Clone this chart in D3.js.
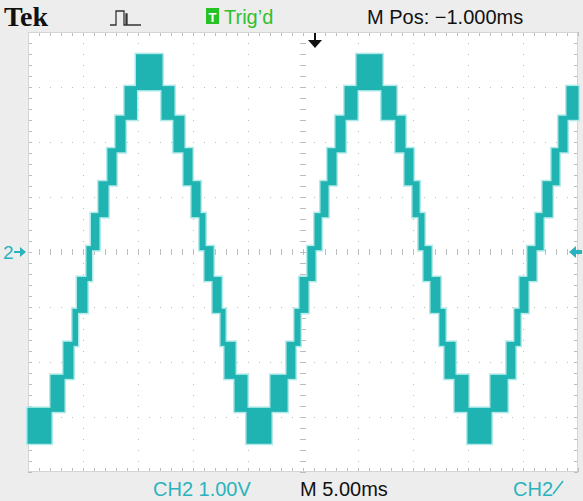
<!DOCTYPE html>
<html>
<head>
<meta charset="utf-8">
<script src="https://cdn.jsdelivr.net/npm/d3@7"></script>
<style>
  html, body { margin: 0; padding: 0; background: #ededed; }
  svg { display: block; }
  .lbl { font-family: "Liberation Sans", Arial, sans-serif; font-size: 20px; }
</style>
</head>
<body>
<svg id="scope" width="583" height="501"></svg>
<script>
// time axis in ms relative to trigger (M Pos -1.000ms, 5ms/div), volts at 1.00V/div
var timeDomain = [-26, 24];
var voltDomain = [-4, 4];

// the 13 output levels of the stepped wave (V)
var levelVolts = [-3.45, -2.87, -2.27, -1.67, -1.07, -0.49, 0.07, 0.67, 1.25, 1.85, 2.44, 2.98, 3.56];

// edges of each step block (ms) and the lower level index of that block
var stepEdges = [-26.0, -23.91, -22.73, -21.91, -21.5, -20.64, -20.23, -19.55, -18.73, -18.0, -17.18,
                 -16.14, -13.82, -12.73, -11.82, -11.09, -10.36, -9.91, -9.18, -8.45, -8.09, -7.18,
                 -6.09, -3.91, -2.45, -1.73, -1.27, -0.55, 0.09, 0.64, 1.27, 2.0, 2.82,
                 3.91, 6.18, 7.45, 8.27, 9.0, 9.55, 10.0, 10.64, 11.45, 11.91, 12.82,
                 14.0, 16.09, 17.55, 18.27, 18.73, 19.45, 20.18, 20.82, 21.64, 22.27, 23.0, 24.0];
var stepLevel = [0, 1, 2, 3, 4, 5, 6, 7, 8, 9, 10, 11, 10, 9, 8, 7, 6, 5, 4, 3, 2, 1,
                 0, 1, 2, 3, 4, 5, 6, 7, 8, 9, 10, 11, 10, 9, 8, 7, 6, 5, 4, 3, 2, 1,
                 0, 1, 2, 3, 4, 5, 6, 7, 8, 9, 10];

var svg = d3.select("#scope");

var xScale = d3.scaleLinear().domain(timeDomain).range([28, 578]);
var yScale = d3.scaleLinear().domain(voltDomain).range([472, 32]);

// plot background
svg.append("rect")
  .attr("x", xScale(timeDomain[0])).attr("y", yScale(voltDomain[1]))
  .attr("width", xScale(timeDomain[1]) - xScale(timeDomain[0]))
  .attr("height", yScale(voltDomain[0]) - yScale(voltDomain[1]))
  .attr("fill", "#ffffff");

//dotted graticule, one line per division
var grid = svg.append("g").attr("stroke", "#bdbdbd").attr("stroke-width", 1);
var divX = d3.range(timeDomain[0] + 5, timeDomain[1], 5);
var divY = d3.range(voltDomain[0] + 1, voltDomain[1], 1);

grid.selectAll(".gx").data(divX).enter().append("line")
  .attr("x1", d => xScale(d) + 0.5).attr("x2", d => xScale(d) + 0.5)
  .attr("y1", yScale(voltDomain[1])).attr("y2", yScale(voltDomain[0]))
  .attr("stroke-dasharray", "1,10");

grid.selectAll(".gy").data(divY).enter().append("line")
  .attr("y1", d => yScale(d) + 0.5).attr("y2", d => yScale(d) + 0.5)
  .attr("x1", xScale(timeDomain[0])).attr("x2", xScale(timeDomain[1]))
  .attr("stroke-dasharray", "1,10");

// minor ticks on centre lines and on the frame (5 per division)
var minorX = d3.range(timeDomain[0], timeDomain[1] + 0.01, 1);
var minorY = d3.range(voltDomain[0], voltDomain[1] + 0.01, 0.2);
var xMid = xScale(-1), yMid = yScale(0);

grid.selectAll(".mx").data(minorX).enter().append("line")
  .attr("x1", d => xScale(d) + 0.5).attr("x2", d => xScale(d) + 0.5)
  .attr("y1", yMid - 3).attr("y2", yMid + 3);
grid.selectAll(".my").data(minorY).enter().append("line")
  .attr("y1", d => yScale(d) + 0.5).attr("y2", d => yScale(d) + 0.5)
  .attr("x1", xMid - 3).attr("x2", xMid + 3);

grid.selectAll(".tt").data(minorX).enter().append("line")
  .attr("x1", d => xScale(d) + 0.5).attr("x2", d => xScale(d) + 0.5)
  .attr("y1", yScale(voltDomain[1])).attr("y2", yScale(voltDomain[1]) + 4);
grid.selectAll(".tb").data(minorX).enter().append("line")
  .attr("x1", d => xScale(d) + 0.5).attr("x2", d => xScale(d) + 0.5)
  .attr("y1", yScale(voltDomain[0]) - 4).attr("y2", yScale(voltDomain[0]));
grid.selectAll(".tl").data(minorY).enter().append("line")
  .attr("y1", d => yScale(d) + 0.5).attr("y2", d => yScale(d) + 0.5)
  .attr("x1", xScale(timeDomain[0])).attr("x2", xScale(timeDomain[0]) + 4);
grid.selectAll(".tr").data(minorY).enter().append("line")
  .attr("y1", d => yScale(d) + 0.5).attr("y2", d => yScale(d) + 0.5)
  .attr("x1", xScale(timeDomain[1]) - 4).attr("x2", xScale(timeDomain[1]));

svg.append("rect")
  .attr("x", xScale(timeDomain[0]) + 0.5).attr("y", yScale(voltDomain[1]) + 0.5)
  .attr("width", xScale(timeDomain[1]) - xScale(timeDomain[0]) - 1)
  .attr("height", yScale(voltDomain[0]) - yScale(voltDomain[1]) - 1)
  .attr("fill", "none").attr("stroke", "#d4d4d4");

//the stepped trace, one block per step (blocks overlap a little so the staircase reads as one trace)
var blocks = stepLevel.map(function(lv, i) {
  return { t0: stepEdges[i], t1: stepEdges[i + 1], lo: levelVolts[lv], hi: levelVolts[lv + 1] };
});

var trace = svg.append("g");
trace.selectAll(".glow").data(blocks).enter().append("rect")
  .attr("x", d => xScale(d.t0) - 0.5).attr("y", d => yScale(d.hi) - 2)
  .attr("width", d => xScale(d.t1) - xScale(d.t0) + 1)
  .attr("height", d => yScale(d.lo) - yScale(d.hi) + 4)
  .attr("fill", "none").attr("stroke", "#b3eae9").attr("stroke-width", 3);
trace.selectAll(".blk").data(blocks).enter().append("rect")
  .attr("x", d => xScale(d.t0) - 0.5).attr("y", d => yScale(d.hi) - 2)
  .attr("width", d => xScale(d.t1) - xScale(d.t0) + 1)
  .attr("height", d => yScale(d.lo) - yScale(d.hi) + 4)
  .attr("fill", "#1fb4b2");

// trigger position arrow
svg.append("path")
  .attr("d", "M" + (xScale(0) + 1) + "," + (yScale(voltDomain[1]) + 1) + "v10")
  .attr("stroke", "#111").attr("stroke-width", 2);
svg.append("path")
  .attr("d", "M" + (xScale(0) - 6) + "," + (yScale(voltDomain[1]) + 8) + "h14l-7,8z")
  .attr("fill", "#111");

// channel ground marker and trigger level marker
svg.append("text").attr("class", "lbl")
  .attr("x", 3).attr("y", yMid + 7)
  .attr("fill", "#2bb3bd").style("font-size", "19px").text("2");
svg.append("path")
  .attr("d", "M14," + (yMid - 1) + "h6v-4l6,5l-6,5v-4h-6z")
  .attr("fill", "#2bb3bd");
svg.append("path")
  .attr("d", "M569," + yMid + "l7,-6v4h6v4h-6v4z")
  .attr("fill", "#2bb3bd");

// top status bar
svg.append("text")
  .attr("x", 4).attr("y", 26)
  .style("font-family", "'Liberation Serif', 'DejaVu Serif', serif")
  .style("font-weight", "bold").style("font-size", "28px")
  .attr("fill", "#111").text("Tek");

svg.append("path")
  .attr("d", "M110,25h6v-14h8v14h2v-11h1v11h14")
  .attr("fill", "none").attr("stroke", "#333").attr("stroke-width", 1.3);

svg.append("rect").attr("x", 206).attr("y", 8).attr("width", 13).attr("height", 16).attr("fill", "#25c225");
svg.append("text").attr("class", "lbl").attr("x", 212.5).attr("y", 21.5)
  .attr("text-anchor", "middle").attr("fill", "#fff").style("font-size", "13px").style("font-weight", "bold").text("T");
svg.append("text").attr("class", "lbl").attr("x", 224).attr("y", 24)
  .attr("fill", "#2fc02f").text("Trig\u2019d");

svg.append("text").attr("class", "lbl").attr("x", 367).attr("y", 24)
  .attr("fill", "#111").text("M Pos: \u22121.000ms");

// bottom status bar
svg.append("text").attr("class", "lbl").attr("x", 153).attr("y", 496)
  .attr("fill", "#2bb3bd").text("CH2  1.00V");
svg.append("text").attr("class", "lbl").attr("x", 300).attr("y", 496)
  .attr("fill", "#111").text("M 5.00ms");
svg.append("text").attr("class", "lbl").attr("x", 513).attr("y", 496)
  .attr("fill", "#2bb3bd").text("CH2");
svg.append("path")
  .attr("d", "M553,494l10,-13")
  .attr("stroke", "#2bb3bd").attr("stroke-width", 1.5);
</script>
</body>
</html>
